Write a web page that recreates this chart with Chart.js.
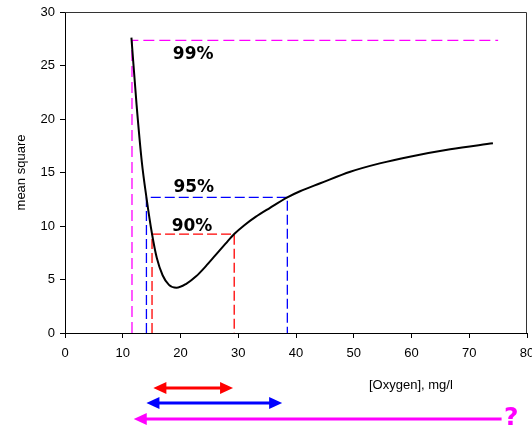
<!DOCTYPE html>
<html>
<head>
<meta charset="utf-8">
<script src="https://cdn.jsdelivr.net/npm/chart.js@4/dist/chart.umd.min.js"></script>
<style>
  body { margin: 0; background: #fff; }
  #wrap { width: 532px; height: 429px; }
</style>
</head>
<body>
<div id="wrap"><canvas id="msChart" width="532" height="429"></canvas></div>
<script>
// mean square vs oxygen concentration
const oxygen = [11.5, 12.4, 13.3, 14.1, 15.07, 15.9, 16.9, 18.0, 19.3, 21.0, 22.7, 24.4, 26.1, 27.8, 29.3, 31.0, 33.0, 35.5, 38.5, 40.7, 44.2, 49.4, 54.5, 59.7, 66.7, 74.1];
const meanSquare = [27.6, 21.3, 16.0, 12.68, 9.25, 7.0, 5.4, 4.5, 4.23, 4.6, 5.3, 6.25, 7.3, 8.35, 9.25, 10.05, 10.85, 11.7, 12.68, 13.25, 13.99, 15.07, 15.85, 16.48, 17.17, 17.73];

// confidence levels: threshold value and the x interval where it is drawn
const levelNames = ["99%", "95%", "90%"];
const levelValues = [27.35, 12.68, 9.25];
const levelFrom = [11.6, 14.1, 15.07];
const levelTo = [75.0, 38.5, 29.3];
const levelColors = ["#ff00ff", "#0000ff", "#ff0000"];

// where the % labels sit (data units)
const labelX = [22.2, 22.3, 22.0];
const labelY = [26.0, 13.6, 9.9];

// range arrows under the axis
const arrowFrom = [15.3, 14.1, 11.9];
const arrowTo = [29.1, 37.6, 75.6];
const arrowColors = ["#ff0000", "#0000ff", "#ff00ff"];
const arrowRows = [388, 403, 419];
const arrowBothEnds = [true, true, false];

const xTicks = [0, 10, 20, 30, 40, 50, 60, 70, 80];
const yTicks = [0, 5, 10, 15, 20, 25, 30];

function levelPath(i) {
  // 99% line stops at the top, the others come back down to zero
  const pts = [{x: levelFrom[i], y: 0}, {x: levelFrom[i], y: levelValues[i]}, {x: levelTo[i], y: levelValues[i]}];
  if (i > 0) pts.push({x: levelTo[i], y: 0});
  return pts;
}

const datasets = [{
  data: oxygen.map((x, i) => ({x: x, y: meanSquare[i]})),
  showLine: true,
  borderColor: "#000",
  borderWidth: 2,
  pointRadius: 0,
  cubicInterpolationMode: "monotone"
}];
levelNames.forEach((n, i) => {
  datasets.push({
    data: levelPath(i),
    showLine: true,
    borderColor: levelColors[i],
    borderWidth: 1.3,
    borderDash: i === 0 ? [11, 5] : [10, 4],
    pointRadius: 0,
    tension: 0
  });
});

function arrowHead(ctx, x, y, dir) {
  ctx.beginPath();
  ctx.moveTo(x, y);
  ctx.lineTo(x + dir * 13, y - 6);
  ctx.lineTo(x + dir * 13, y + 6);
  ctx.closePath();
  ctx.fill();
}

const extras = {
  id: "extras",
  afterDraw(chart) {
    const ctx = chart.ctx;
    const a = chart.chartArea;
    const xs = chart.scales.x;
    const ys = chart.scales.y;
    ctx.save();

    // frame top and right
    ctx.strokeStyle = "#333";
    ctx.lineWidth = 1;
    ctx.beginPath();
    ctx.moveTo(a.left, a.top + 0.5);
    ctx.lineTo(a.right - 0.5, a.top + 0.5);
    ctx.lineTo(a.right - 0.5, a.bottom);
    ctx.stroke();

    // level labels
    ctx.fillStyle = "#000";
    ctx.font = "bold 17px 'DejaVu Sans'";
    ctx.textAlign = "center";
    ctx.textBaseline = "middle";
    levelNames.forEach((t, i) => {
      ctx.fillText(t, xs.getPixelForValue(labelX[i]), ys.getPixelForValue(labelY[i]));
    });

    // x axis title
    ctx.font = "13px 'Liberation Sans', Arial";
    ctx.textAlign = "left";
    ctx.fillText("[Oxygen], mg/l", 369, 385);

    // range arrows
    arrowFrom.forEach((f, i) => {
      const x1 = xs.getPixelForValue(f);
      const x2 = xs.getPixelForValue(arrowTo[i]);
      const y = arrowRows[i];
      ctx.strokeStyle = arrowColors[i];
      ctx.fillStyle = arrowColors[i];
      ctx.lineWidth = 3;
      ctx.beginPath();
      ctx.moveTo(x1 + 8, y);
      ctx.lineTo(arrowBothEnds[i] ? x2 - 8 : x2, y);
      ctx.stroke();
      arrowHead(ctx, x1, y, 1);
      if (arrowBothEnds[i]) arrowHead(ctx, x2, y, -1);
    });

    ctx.fillStyle = "#ff00ff";
    ctx.font = "bold 25px 'DejaVu Sans'";
    ctx.textAlign = "left";
    ctx.textBaseline = "alphabetic";
    ctx.fillText("?", 504, 425);

    ctx.restore();
  }
};

new Chart(document.getElementById("msChart"), {
  type: "scatter",
  data: { datasets: datasets },
  options: {
    responsive: false,
    animation: false,
    layout: { padding: { top: 12, right: 5, left: 0, bottom: 0 } },
    plugins: { legend: { display: false }, tooltip: { enabled: false } },
    scales: {
      x: {
        min: 0, max: 80,
        afterBuildTicks: s => { s.ticks = xTicks.map(v => ({value: v})); },
        afterFit: s => { s.height = 96; s.paddingLeft = 0; s.paddingRight = 0; },
        grid: { drawOnChartArea: false, tickLength: 5, color: "#000" },
        border: { color: "#000", width: 1 },
        ticks: { color: "#000", padding: 8, maxRotation: 0, font: { family: "'Liberation Sans', Arial", size: 13 } }
      },
      y: {
        min: 0, max: 30,
        afterBuildTicks: s => { s.ticks = yTicks.map(v => ({value: v})); },
        afterFit: s => { s.width = 65; s.paddingTop = 0; s.paddingBottom = 0; },
        grid: { drawOnChartArea: false, tickLength: 5, color: "#000" },
        border: { color: "#000", width: 1 },
        ticks: { color: "#000", padding: 5, font: { family: "'Liberation Sans', Arial", size: 13 } },
        title: { display: true, text: "mean square", color: "#000", padding: { top: 14 }, font: { family: "'Liberation Sans', Arial", size: 13 } }
      }
    }
  },
  plugins: [extras]
});
</script>
</body>
</html>
